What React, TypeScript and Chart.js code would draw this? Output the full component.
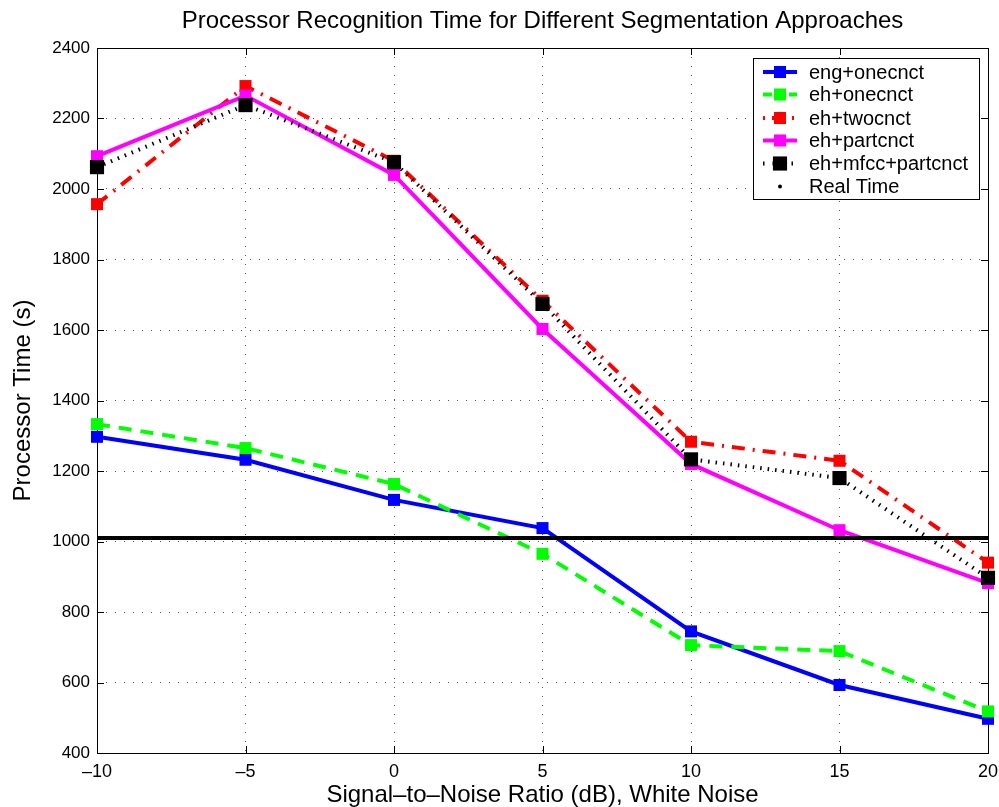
import React, { useEffect, useRef } from "react";
import { Chart, registerables } from "chart.js";

Chart.register(...registerables);

// Signal-to-noise ratios (dB)
const snr = [-10, -5, 0, 5, 10, 15, 20];

// Processor time (s) per segmentation approach
const engOnecnct = [1297, 1232, 1118, 1038, 745, 593, 497];
const ehOnecnct = [1333, 1265, 1163, 965, 706, 689, 518];
const ehTwocnct = [1957, 2292, 2080, 1683, 1283, 1229, 940];
const ehPartcnct = [2093, 2265, 2040, 1603, 1220, 1032, 882];
const ehMfccPartcnct = [2062, 2238, 2076, 1674, 1233, 1180, 897];
const realTime = 1010;

const yTicks = [400, 600, 800, 1000, 1200, 1400, 1600, 1800, 2000, 2200, 2400];
const xTicks = [-10, -5, 0, 5, 10, 15, 20];

const FONT = "'Liberation Sans', Arial, Helvetica, sans-serif";
const TITLE = "Processor Recognition Time for Different Segmentation Approaches";
const X_TITLE = "Signal\u2013to\u2013Noise Ratio (dB), White Noise";
const Y_TITLE = "Processor Time (s)";

const pts = (ys: number[]) => snr.map((x, i) => ({ x, y: ys[i] }));

const frameAndTicks = {
  id: "frameAndTicks",
  beforeDatasetsDraw(chart: any) {
    const { ctx, chartArea: a, scales } = chart;
    ctx.save();
    ctx.strokeStyle = "#000";
    ctx.lineWidth = 1;
    ctx.setLineDash([]);
    ctx.strokeRect(Math.round(a.left) + 0.5, Math.round(a.top) + 0.5, Math.round(a.right - a.left), Math.round(a.bottom - a.top));
    const len = 7;
    ctx.beginPath();
    yTicks.forEach((v) => {
      const y = Math.round(scales.y.getPixelForValue(v)) + 0.5;
      ctx.moveTo(a.left, y);
      ctx.lineTo(a.left + len, y);
      ctx.moveTo(a.right, y);
      ctx.lineTo(a.right - len, y);
    });
    xTicks.forEach((v) => {
      const x = Math.round(scales.x.getPixelForValue(v)) + 0.5;
      ctx.moveTo(x, a.bottom);
      ctx.lineTo(x, a.bottom - len);
      ctx.moveTo(x, a.top);
      ctx.lineTo(x, a.top + len);
    });
    ctx.stroke();
    ctx.restore();
  },
  afterDraw(chart: any) {
    const { ctx, chartArea: a } = chart;
    ctx.save();
    ctx.fillStyle = "#000";
    ctx.textAlign = "center";
    ctx.textBaseline = "middle";
    ctx.font = `24px ${FONT}`;
    ctx.fillText(TITLE, (a.left + a.right) / 2, 21);
    ctx.fillText(X_TITLE, (a.left + a.right) / 2, 795);
    ctx.save();
    ctx.translate(23, (a.top + a.bottom) / 2);
    ctx.rotate(-Math.PI / 2);
    ctx.fillText(Y_TITLE, 0, 0);
    ctx.restore();

    // legend box
    const lx = 753, ly = 58, lw = 226, lh = 141;
    ctx.fillStyle = "#fff";
    ctx.fillRect(lx, ly, lw, lh);
    ctx.strokeStyle = "#000";
    ctx.lineWidth = 1;
    ctx.strokeRect(lx + 0.5, ly + 0.5, lw, lh);
    const rows = [72, 94.5, 118, 140.5, 163.5, 186.5];
    chart.data.datasets.forEach((ds: any, i: number) => {
      const y = rows[i];
      const x0 = 763, x1 = 797, xm = 780;
      ctx.save();
      ctx.strokeStyle = ds.borderColor;
      ctx.lineWidth = ds.borderWidth;
      ctx.lineCap = "butt";
      ctx.setLineDash(ds.legendDash || ds.borderDash || []);
      if (ds.pointRadius > 0) {
        ctx.beginPath();
        ctx.moveTo(x0, y);
        ctx.lineTo(x1, y);
        ctx.stroke();
        ctx.setLineDash([]);
        const s = Math.SQRT2 * ds.pointRadius;
        ctx.fillStyle = ds.pointBackgroundColor;
        ctx.fillRect(xm - s / 2, y - s / 2, s, s);
      } else {
        ctx.fillStyle = "#000";
        ctx.beginPath();
        ctx.arc(xm, y, 2, 0, Math.PI * 2);
        ctx.fill();
      }
      ctx.restore();
      ctx.fillStyle = "#000";
      ctx.textAlign = "left";
      ctx.font = `20px ${FONT}`;
      ctx.fillText(ds.label, 809, y + 1);
    });
    ctx.restore();
  },
};

export default function App() {
  const ref = useRef<HTMLCanvasElement | null>(null);

  useEffect(() => {
    if (!ref.current) return;
    const mk = (label: string, data: number[], color: string, dash: number[], order: number, radius: number, legendDash?: number[]) => ({
      label,
      data: pts(data),
      borderColor: color,
      backgroundColor: color,
      pointBackgroundColor: color,
      pointBorderColor: color,
      pointBorderWidth: 0,
      borderWidth: 4,
      borderDash: dash,
      borderCapStyle: "butt",
      pointStyle: "rect",
      pointRadius: radius,
      pointHoverRadius: radius,
      tension: 0,
      order,
      clip: false,
      legendDash,
    });
    const chart = new Chart(ref.current, {
      type: "line",
      data: {
        datasets: [
          mk("eng+onecnct", engOnecnct, "#0000ff", [], 6, 8.5),
          mk("eh+onecnct", ehOnecnct, "#00ff00", [13, 9], 5, 8.5, [9, 4]),
          mk("eh+twocnct", ehTwocnct, "#ff0000", [13, 8, 2, 8], 4, 8.5, [2, 7, 13, 7]),
          mk("eh+partcnct", ehPartcnct, "#ff00ff", [], 3, 8.5),
          mk("eh+mfcc+partcnct", ehMfccPartcnct, "#000000", [1.5, 6], 2, 10, [1.5, 8]),
          {
            label: "Real Time",
            data: [{ x: -10, y: realTime }, { x: 20, y: realTime }],
            borderColor: "#000000",
            backgroundColor: "#000000",
            pointBackgroundColor: "#000000",
            borderWidth: 4,
            pointRadius: 0,
            order: 1,
            clip: false,
          } as any,
        ] as any,
      },
      options: {
        animation: false,
        responsive: false,
        maintainAspectRatio: false,
        layout: { padding: { top: 48, right: 11, left: 0, bottom: 0 } },
        plugins: {
          legend: { display: false },
          title: { display: false },
          tooltip: { enabled: false },
        },
        scales: {
          x: {
            type: "linear",
            min: -10,
            max: 20,
            afterFit: (s: any) => {
              s.height = 54;
              s.paddingLeft = 0;
              s.paddingRight = 0;
            },
            afterBuildTicks: (s: any) => {
              s.ticks = xTicks.map((v) => ({ value: v }));
            },
            ticks: {
              color: "#000",
              font: { family: FONT, size: 18 },
              padding: 8,
              maxRotation: 0,
              callback: (v: any) => String(v).replace("-", "\u2013"),
            },
            grid: { color: "rgba(0,0,0,0.65)", lineWidth: 1, drawTicks: false },
            border: { display: false, dash: [1, 8] },
          },
          y: {
            type: "linear",
            min: 400,
            max: 2400,
            afterFit: (s: any) => {
              s.width = 97;
              s.paddingTop = 0;
              s.paddingBottom = 0;
            },
            afterBuildTicks: (s: any) => {
              s.ticks = yTicks.map((v) => ({ value: v }));
            },
            ticks: {
              color: "#000",
              font: { family: FONT, size: 17 },
              padding: 7,
              callback: (v: any) => String(v),
            },
            grid: { color: "rgba(0,0,0,0.65)", lineWidth: 1, drawTicks: false },
            border: { display: false, dash: [1, 8] },
          },
        },
      },
      plugins: [frameAndTicks],
    } as any);
    return () => chart.destroy();
  }, []);

  return (
    <div style={{ position: "absolute", left: 0, top: 0, width: 999, height: 807, background: "#fff" }}>
      <canvas ref={ref} width={999} height={807} style={{ display: "block", width: 999, height: 807 }} />
    </div>
  );
}
